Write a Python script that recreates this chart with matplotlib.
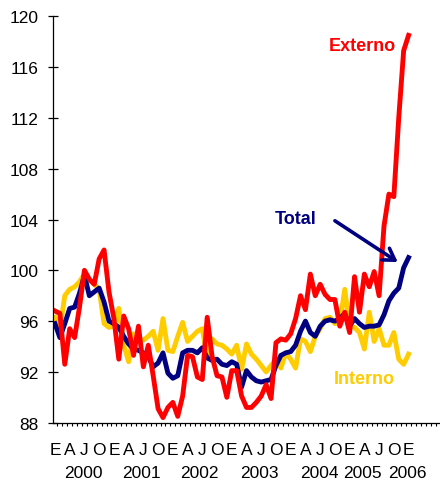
import numpy as np
import matplotlib
matplotlib.use("Agg")
import matplotlib.pyplot as plt
from matplotlib.ticker import FixedLocator

plt.rcParams['font.family'] = ['Liberation Sans', 'DejaVu Sans']

# monthly index values, Jan 2000 - Jan 2006
externo = [96.8, 96.6, 92.6, 95.4, 94.7, 97.1, 100.0, 99.3, 98.9, 100.9, 101.6, 98.3,
           96.2, 93.0, 96.4, 95.4, 93.3, 95.6, 92.4, 94.1, 91.7, 89.1, 88.4, 89.2,
           89.6, 88.5, 90.1, 93.3, 93.2, 91.6, 91.4, 96.3, 93.2, 91.7, 91.6, 90.0,
           92.1, 92.1, 90.1, 89.2, 89.2, 89.6, 90.1, 91.0, 89.9, 94.3, 94.6, 94.5,
           95.0, 96.2, 98.0, 96.9, 99.7, 98.0, 98.9, 98.1, 97.7, 97.7, 95.6, 96.7,
           95.1, 99.5, 96.7, 99.7, 98.7, 99.9, 98.0, 103.5, 106.0, 105.8, 112.0, 117.3,
           118.5]
total = [95.8, 94.7, 95.8, 97.0, 97.1, 98.2, 99.6, 98.0, 98.3, 98.6, 97.5, 96.0,
         95.8, 95.5, 94.8, 94.2, 93.8, 93.7, 93.5, 93.2, 92.4, 92.7, 93.5, 91.9,
         91.5, 91.7, 93.5, 93.7, 93.7, 93.5, 93.9, 93.1, 92.9, 93.0, 92.6, 92.5,
         92.8, 92.6, 90.8, 92.1, 91.6, 91.3, 91.2, 91.3, 91.4, 92.5, 93.3, 93.5,
         93.6, 94.1, 95.2, 96.0, 95.1, 94.8, 95.6, 96.0, 96.1, 96.0, 96.2, 96.6,
         95.6, 96.2, 95.8, 95.5, 95.6, 95.6, 95.7, 96.5, 97.6, 98.2, 98.6, 100.2,
         101.0]
interno = [96.3, 95.4, 98.0, 98.5, 98.7, 99.1, 99.7, 99.2, 98.9, 98.5, 95.8, 95.5,
           95.6, 97.0, 94.1, 92.8, 95.0, 94.6, 94.5, 94.8, 95.2, 93.7, 96.2, 93.7,
           93.6, 94.8, 95.9, 94.4, 94.8, 95.2, 95.4, 93.2, 94.6, 94.2, 94.1, 93.8,
           93.4, 94.1, 92.2, 94.2, 93.4, 93.0, 92.5, 92.0, 92.5, 93.0, 92.3, 93.5,
           93.0, 92.3, 94.6, 94.4, 93.6, 94.8, 95.4, 96.2, 96.3, 95.8, 95.9, 98.5,
           95.6, 95.5, 95.1, 93.8, 96.7, 94.4, 95.4, 94.1, 94.1, 95.1, 93.0, 92.6,
           93.4]

month_letters = ['E', 'A', 'J', 'O'] * 6 + ['E']
years = ['2000', '2001', '2002', '2003', '2004', '2005', '2006']
# where the year captions sit under the axis (in months)
year_pos = [5.8, 17.7, 29.5, 41.7, 53.9, 62.6, 71.7]

RED = '#FF0000'
NAVY = '#000080'
YELLOW = '#FFCC00'

months = np.arange(len(externo))

fig = plt.figure(figsize=(4.4, 4.85), dpi=100)
ax = fig.add_axes([0.121, 0.1264, 0.879, 0.8379])

ax.plot(months, interno, color=YELLOW, lw=3.5, solid_joinstyle='round')
ax.plot(months, total, color=NAVY, lw=3.5, solid_joinstyle='round')
ax.plot(months, externo, color=RED, lw=3.5, solid_joinstyle='round')

ax.set_ylim(88, 120)
ax.set_xlim(-0.35, 78.4)
ax.set_yticks(np.arange(88, 121, 4))
ax.tick_params(axis='y', direction='inout', length=7.2, width=0.9,
               labelsize=12.5, pad=7)

ax.set_xticks(np.arange(0, len(externo), 3))
ax.set_xticklabels(month_letters)
ax.tick_params(axis='x', which='major', length=0, labelsize=12.5, pad=14)
ax.xaxis.set_minor_locator(FixedLocator(np.arange(-0.5, 79, 1)))
ax.tick_params(axis='x', which='minor', direction='out', length=2.5, width=0.8)

for sp in ['top', 'right']:
    ax.spines[sp].set_visible(False)
for sp in ['left', 'bottom']:
    ax.spines[sp].set_linewidth(0.9)

for yr, xp in zip(years, year_pos):
    ax.annotate(yr, xy=(xp, 0), xycoords=('data', 'axes fraction'),
                xytext=(0, -36), textcoords='offset points',
                ha='center', va='center', fontsize=12.5, annotation_clip=False)

ax.text(62.5, 117.7, 'Externo', color=RED, fontsize=13, fontweight='bold',
        ha='center', va='center')
ax.text(49.1, 104.1, 'Total', color=NAVY, fontsize=13, fontweight='bold',
        ha='center', va='center')
ax.text(62.9, 91.5, 'Interno', color=YELLOW, fontsize=13, fontweight='bold',
        ha='center', va='center')

ax.annotate('', xy=(69.8, 100.65), xytext=(57.0, 103.9),
            arrowprops=dict(arrowstyle='->,head_length=0.8,head_width=0.5',
                            color=NAVY, lw=2.6, shrinkA=0, shrinkB=0))

fig.savefig('out.png', dpi=100)
